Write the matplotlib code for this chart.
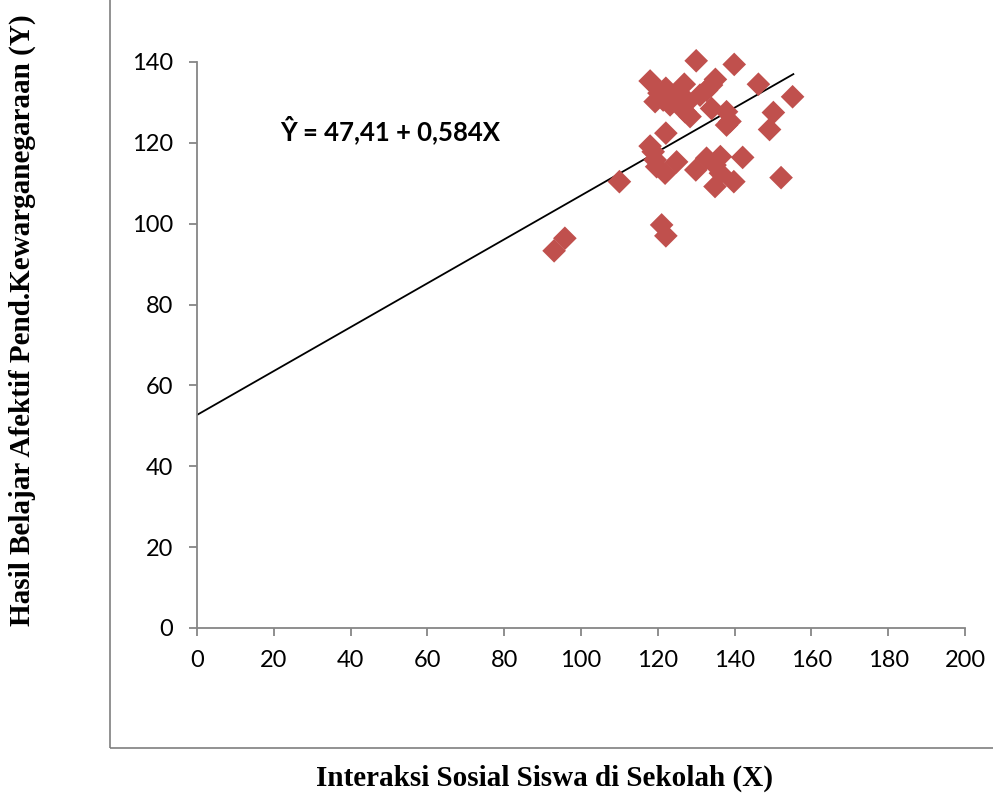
import matplotlib.pyplot as plt
from matplotlib.patches import Rectangle

# scatter data
x_vals = [93, 95.8, 110, 121, 122.1, 130, 139.9, 118, 122.1, 126.9, 135, 146.2, 155.1,
          119.3, 123.2, 121.4, 127.9, 127.1, 128.4, 131, 132.7, 134, 134, 137.9, 138.8,
          137.9, 150.1, 149.1, 122.1, 118, 118.8, 119.3, 119.7, 121.9, 124.9, 129.9,
          132.7, 134.9, 136.3, 136.3, 134.9, 139.8, 142.1, 152.1, 120.3, 124.9]
y_vals = [93.3, 96.4, 110.4, 99.7, 97, 140.3, 139.4, 135.3, 133.5, 134.5, 135.7, 134.5, 131.4,
          130.2, 129.4, 130.6, 130.2, 127.7, 126.5, 131.8, 133, 134.3, 128.5, 127.7, 125.3,
          124.4, 127.5, 123.3, 122.4, 119.2, 117.8, 115.8, 114.1, 112.5, 115.3, 113.3,
          116.2, 114.5, 116.6, 112.5, 109.2, 110.4, 116.4, 111.4, 132.3, 131.8]

# trend line endpoints
line_x = [0, 155.3]
line_y = [52.7, 137.0]

x_ticks = list(range(0, 201, 20))
y_ticks = list(range(0, 141, 20))

fig = plt.figure(figsize=(9.93, 7.96), dpi=100)
ax = fig.add_axes([197 / 993, 168 / 796, 768 / 993, 566 / 796])

ax.plot(line_x, line_y, color='black', linewidth=1.3, zorder=2)
ax.scatter(x_vals, y_vals, marker='D', s=145, color='#C0504D', edgecolors='none',
           zorder=3, clip_on=False)

ax.set_xlim(0, 200)
ax.set_ylim(0, 140)
ax.set_xticks(x_ticks)
ax.set_yticks(y_ticks)

for side in ['top', 'right']:
    ax.spines[side].set_visible(False)
for side in ['left', 'bottom']:
    ax.spines[side].set_color('#868686')
    ax.spines[side].set_linewidth(1.3)
ax.tick_params(direction='out', length=6, width=1.3, color='#868686',
               labelsize=17)
ax.tick_params(axis='y', pad=11)
ax.tick_params(axis='x', pad=10)
for lbl in ax.get_xticklabels() + ax.get_yticklabels():
    lbl.set_fontfamily('Lato')

ax.text(21.6, 123.2, 'Ŷ = 47,41 + 0,584X', fontsize=18.5, fontweight='bold',
        fontfamily='Lato', va='center', ha='left')

# outer chart border
fig.patches.append(Rectangle((110 / 993, 1 - 748 / 796), 1.0, 1.0,
                             transform=fig.transFigure, fill=False,
                             edgecolor='#7f7f7f', linewidth=1.2))

fig.text(22 / 993, 1 - 320 / 796, 'Hasil Belajar Afektif Pend.Kewarganegaraan (Y)',
         rotation=90, ha='center', va='center', fontsize=21, fontweight='bold',
         fontfamily='Liberation Serif')
fig.text(544 / 993, 1 - 778 / 796, 'Interaksi Sosial Siswa di Sekolah (X)',
         ha='center', va='center', fontsize=21, fontweight='bold',
         fontfamily='Liberation Serif')

fig.savefig('out.png', dpi=100)
